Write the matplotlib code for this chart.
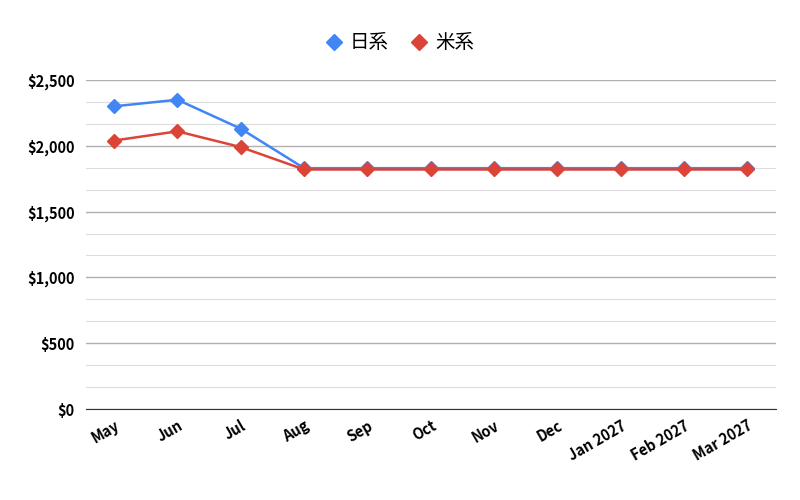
import matplotlib
matplotlib.use("Agg")
import matplotlib.pyplot as plt
from matplotlib.ticker import FuncFormatter, MultipleLocator
from matplotlib.lines import Line2D

months = ["May", "Jun", "Jul", "Aug", "Sep", "Oct", "Nov", "Dec", "Jan 2027", "Feb 2027", "Mar 2027"]
japan = [2300, 2350, 2130, 1830, 1830, 1830, 1830, 1830, 1830, 1830, 1830]
us = [2040, 2110, 1990, 1820, 1820, 1820, 1820, 1820, 1820, 1820, 1820]

plt.rcParams['font.family'] = ['Noto Sans CJK JP', 'DejaVu Sans']
fig = plt.figure(figsize=(8, 5), dpi=100)
ax = fig.add_axes([0.107, 0.182, 0.863, 0.658])
x = range(len(months))
ax.plot(x, japan, color="#4285f4", marker="D", markersize=7, linewidth=1.8)
ax.plot(x, us, color="#db4437", marker="D", markersize=7, linewidth=1.8)
ax.set_ylim(0, 2500)
ax.set_xlim(-0.45, len(months) - 0.55)
ax.yaxis.set_major_locator(MultipleLocator(500))
ax.yaxis.set_minor_locator(MultipleLocator(500 / 3))
ax.yaxis.set_major_formatter(FuncFormatter(lambda v, p: f"${v:,.0f}"))
ax.grid(axis='y', which='major', color="#b0b0b0", linewidth=1)
ax.grid(axis='y', which='minor', color="#dddddd", linewidth=0.8)
ax.set_axisbelow(True)
for s in ["top", "right", "left"]:
    ax.spines[s].set_visible(False)
ax.spines["bottom"].set_color("#333333")
ax.tick_params(axis='both', which='both', length=0)
ax.set_xticks(list(x))
ax.set_xticklabels(months, rotation=30, ha='right', rotation_mode='anchor', fontweight='bold', fontsize=10.5)
for t in ax.get_yticklabels():
    t.set_fontweight('bold'); t.set_fontsize(10.5)
ax.tick_params(axis='y', pad=8)
ax.tick_params(axis='x', pad=6)
handles = [Line2D([], [], color="#4285f4", marker="D", markersize=8, linestyle="none"),
           Line2D([], [], color="#db4437", marker="D", markersize=8, linestyle="none")]
fig.legend(handles, ["日系", "米系"], loc='upper center', bbox_to_anchor=(0.5, 0.97), ncol=2,
           frameon=False, fontsize=14, handlelength=0.8, columnspacing=1.2, handletextpad=0.4)
fig.savefig("out.png", facecolor="white")
